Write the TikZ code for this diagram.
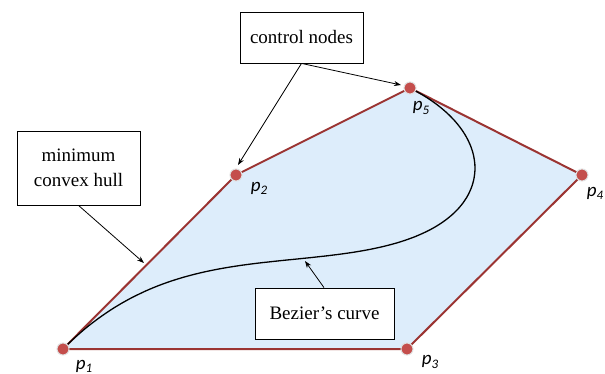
\documentclass[tikz,border=0pt]{standalone}
\usepackage{fontspec}
\setmainfont{Liberation Serif}
\newfontfamily\labfont{Carlito}
\usetikzlibrary{arrows.meta}
\definecolor{hullfill}{RGB}{221,237,251}
\definecolor{hulledge}{RGB}{155,52,50}
\definecolor{dotred}{RGB}{196,78,76}
\tikzset{
  box/.style={draw=black, line width=0.8pt, fill=white, align=center, inner sep=0pt, font=\fontsize{19}{25}\selectfont},
  hull/.style={draw=hulledge, line width=2pt, fill=hullfill, line join=round},
  dot/.style={circle, fill=dotred, draw=gray!25, line width=1pt, minimum size=12pt, inner sep=0pt},
  plab/.style={font=\labfont\itshape\fontsize{19}{19}\selectfont, inner sep=0pt},
  pointer/.style={draw=black, line width=0.8pt, -{Stealth[length=7pt,width=5pt]}},
  curve/.style={draw=black, line width=1.3pt}
}
\newcommand{\plabel}[1]{p\raisebox{-0.35ex}{\fontsize{13}{13}\selectfont #1}}
\begin{document}
\begin{tikzpicture}[x=1pt,y=-1pt]
\useasboundingbox (0,0) rectangle (605,374);
% control points
\coordinate (P1) at (63,349);
\coordinate (P2) at (236,175);
\coordinate (P3) at (407,349);
\coordinate (P4) at (582,175);
\coordinate (P5) at (410,88);
% hull
\path[hull] (P1) -- (P2) -- (P5) -- (P4) -- (P3) -- cycle;
% Bezier curve of degree 4
\draw[curve] plot[domain=0:1, samples=120, smooth, variable=\t]
  ({(1-\t)^4*63 + 4*\t*(1-\t)^3*236 + 6*\t^2*(1-\t)^2*407 + 4*\t^3*(1-\t)*582 + \t^4*410},
   {(1-\t)^4*349 + 4*\t*(1-\t)^3*175 + 6*\t^2*(1-\t)^2*349 + 4*\t^3*(1-\t)*175 + \t^4*88});
% dots
\node[dot] (d1) at (P1) {};
\node[dot] (d2) at (P2) {};
\node[dot] (d3) at (P3) {};
\node[dot] (d4) at (P4) {};
\node[dot] (d5) at (P5) {};
% labels
\node[plab] (l1) at (84,366) {\plabel{1}};
\node[plab] (l2) at (259,188) {\plabel{2}};
\node[plab] (l3) at (430,362) {\plabel{3}};
\node[plab] (l4) at (595,193) {\plabel{4}};
\node[plab] (l5) at (421,108) {\plabel{5}};
% boxes
\node[box, minimum width=123pt, minimum height=51pt] (cn) at (301.5,37.5) {control nodes};
\node[box, minimum width=123pt, minimum height=74pt] (mch) at (78.5,168) {minimum\\convex hull};
\node[box, minimum width=139pt, minimum height=51pt] (bc) at (324.5,313.5) {Bezier’s curve};
% arrow targets
\coordinate (t5) at (401,85);
\coordinate (t2) at (238,165);
\coordinate (th) at (144,263);
\coordinate (tb) at (305,261);
% pointers
\draw[pointer] (cn.south) -- (t5);
\draw[pointer] (cn.south) -- (t2);
\draw[pointer] (mch.south) -- (th);
\draw[pointer] ([xshift=-0.5pt]bc.north) -- (tb);
\end{tikzpicture}
\end{document}
